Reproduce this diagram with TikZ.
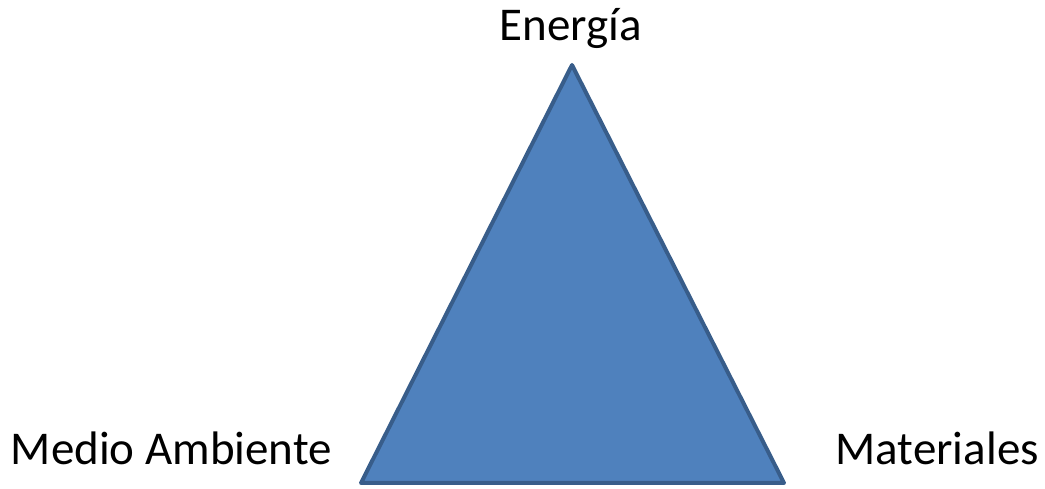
\documentclass[tikz,border=0pt]{standalone}
\usepackage{fontspec}
\setmainfont{Carlito}
\definecolor{triblue}{HTML}{4F81BD}
\definecolor{triedge}{HTML}{385D8A}
\tikzset{etiqueta/.style={font=\fontsize{47}{56}\selectfont}}
\begin{document}
\begin{tikzpicture}[x=1pt,y=1pt]
\useasboundingbox (0,0) rectangle (1045,489);

\coordinate (arriba) at (572,424);
\coordinate (izq) at (361,6);
\coordinate (der) at (784,6);
\draw[fill=triblue,draw=triedge,line width=4pt,line join=round] (arriba) -- (izq) -- (der) -- cycle;

\node[etiqueta,anchor=base] (energia) at (571,448) {Energía};
\node[etiqueta,anchor=base east,inner sep=0pt] (medio) at (332,24) {Medio Ambiente};
\node[etiqueta,anchor=base east,inner sep=0pt] (materiales) at (1039,24) {Materiales};

\end{tikzpicture}
\end{document}
